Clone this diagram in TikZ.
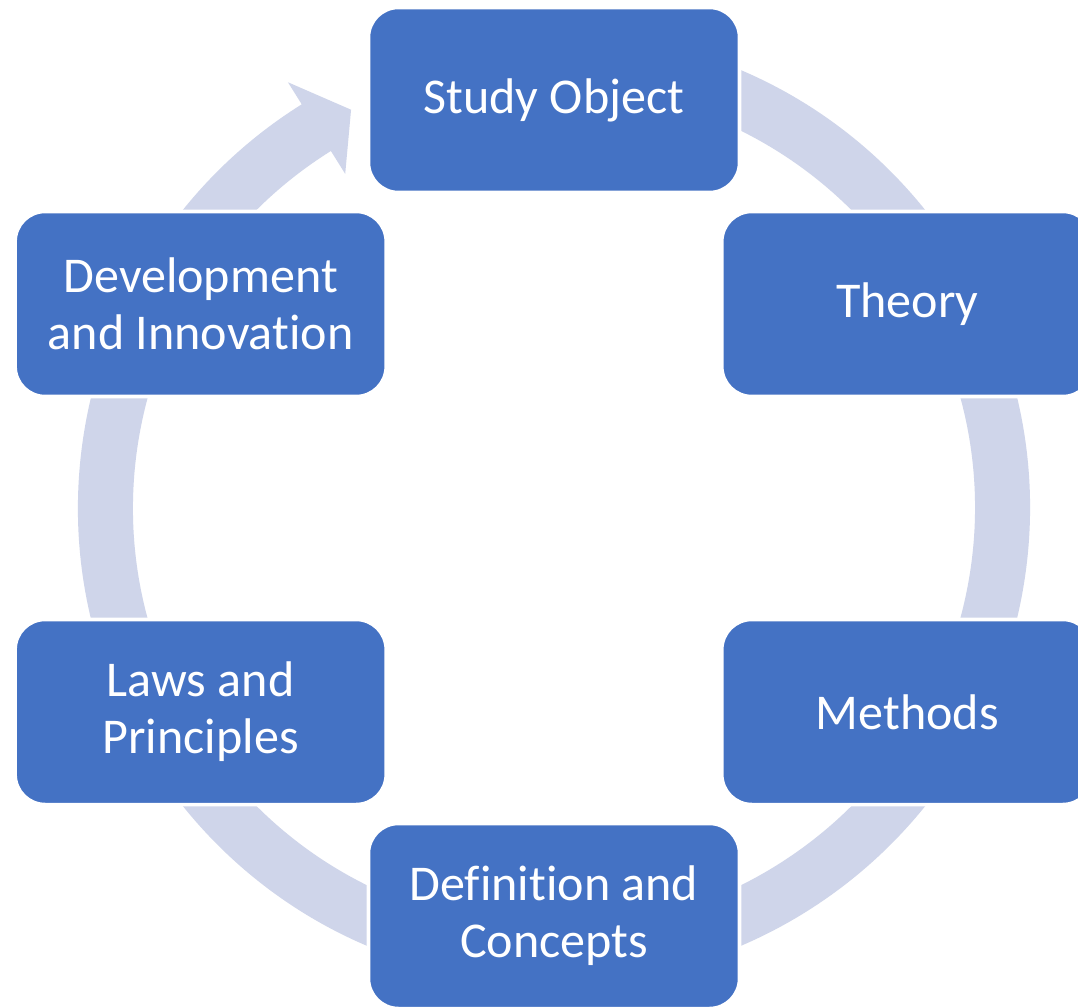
\documentclass[tikz,border=0pt]{standalone}
\usepackage{fontspec}
\setmainfont{Carlito}[Ligatures=NoCommon]
\definecolor{boxblue}{HTML}{4472C4}
\definecolor{ringlav}{HTML}{CFD5EA}
\begin{document}
\begin{tikzpicture}[
	cyclebox/.style={draw=white,line width=2pt,fill=boxblue,rounded corners=0.6cm,
		minimum width=7.42cm,minimum height=3.7cm,align=center,text=white,
		font=\fontsize{28.5}{32.5}\selectfont}
	]
	%Page frame, the ring centre is the origin
	\clip (-11.08,-9.98) rectangle (10.48,10.16);
	\fill[white] (-11.08,-9.98) rectangle (10.48,10.16);
	%The ring with its arrow head in front of the study object
	\fill[ringlav] (80:9.52) arc[start angle=80,end angle=-238,radius=9.52]
		-- (122:10.04) -- (117:8.94) -- (122:7.88) -- (122:8.42)
		arc[start angle=-238,end angle=80,radius=8.42] -- cycle;
	%Centres of the boxes
	\coordinate (cStudy) at (90:8.16);
	\coordinate (cTheory) at (30:8.16);
	\coordinate (cMethods) at (-30:8.16);
	\coordinate (cDefinition) at (-90:8.16);
	\coordinate (cLaws) at (-150:8.16);
	\coordinate (cDevelopment) at (150:8.16);
	%The boxes
	\node [cyclebox] (study) at (cStudy) {Study Object};
	\node [cyclebox] (theory) at (cTheory) {Theory};
	\node [cyclebox] (methods) at (cMethods) {Methods};
	\node [cyclebox] (definition) at (cDefinition) {Definition and\\Concepts};
	\node [cyclebox] (laws) at (cLaws) {Laws and\\Principles};
	\node [cyclebox] (development) at (cDevelopment) {Development\\and Innovation};
\end{tikzpicture}
\end{document}
